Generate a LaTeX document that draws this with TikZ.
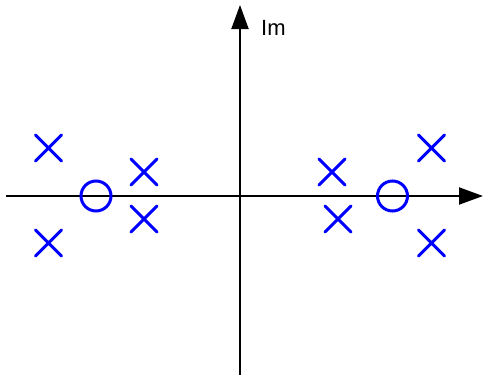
\documentclass[tikz,border=0pt]{standalone}
\usepackage{fontspec}
\setmainfont{Liberation Sans}
\usetikzlibrary{arrows.meta,shapes.misc}
\begin{document}
\begin{tikzpicture}[x=1pt,y=-1pt,
  axis/.style={line width=2pt,-{Triangle[length=24pt,width=17pt]}},
  zero/.style={circle,draw=blue,line width=3pt,minimum size=30pt,inner sep=0pt},
  pole/.style={cross out,draw=blue,line width=3pt,line cap=round,minimum size=23pt,inner sep=0pt},
  lbl/.style={font=\fontsize{22}{26}\selectfont,inner sep=0pt,anchor=base west}]
\useasboundingbox (0,0) rectangle (483,375);
\coordinate (xs) at (6,196);
\coordinate (xe) at (483,196);
\coordinate (ys) at (240,375);
\coordinate (ye) at (240,5);
\draw[axis] (xs) -- (xe);
\draw[axis] (ys) -- (ye);
\node[lbl] (im) at (261,35) {Im};
\node[zero] (z1) at (96,196) {};
\node[zero] (z2) at (392.5,196) {};
\node[pole] (p1) at (48.5,148) {};
\node[pole] (p2) at (48.5,243) {};
\node[pole] (p3) at (144,172) {};
\node[pole] (p4) at (144,219) {};
\node[pole] (p5) at (332,172) {};
\node[pole] (p6) at (338,219) {};
\node[pole] (p7) at (431.5,148) {};
\node[pole] (p8) at (431.5,243) {};
\end{tikzpicture}
\end{document}
